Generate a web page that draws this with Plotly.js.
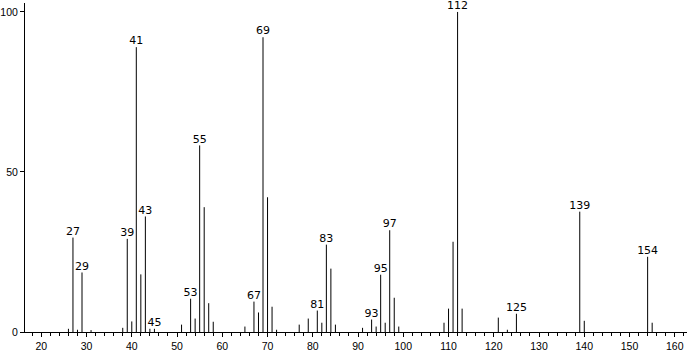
<!DOCTYPE html>
<html>
<head>
<meta charset="utf-8">
<script src="https://cdn.plot.ly/plotly-3.0.1.min.js"></script>
<style>html,body{margin:0;padding:0;background:#fff;}#chart{width:691px;height:351px;}</style>
</head>
<body>
<div id="chart"></div>
<script>
const mz = [26,27,28,29,31,38,39,40,41,42,43,44,45,51,53,54,55,56,57,58,
            65,67,68,69,70,71,72,77,79,81,82,83,84,85,91,93,94,95,96,97,98,99,
            109,110,111,112,113,121,123,125,139,140,154,155];
const intensity = [1.0,29.5,0.7,18.6,0.6,1.3,29.1,3.3,89.0,18.0,36.1,1.0,1.0,2.3,10.4,4.2,58.3,39.0,9.0,3.2,
            1.7,9.5,6.1,92.1,42.1,7.9,0.7,2.3,4.2,6.7,2.9,27.3,19.8,2.3,1.3,3.9,1.7,17.9,2.9,31.8,10.7,1.7,
            2.9,7.3,28.2,100,7.3,4.5,0.7,5.7,37.6,3.5,23.5,2.9];
const labeledPeaks = [27,29,39,41,43,45,53,55,67,69,81,83,93,95,97,112,125,139,154];
const xTickVals = [20,30,40,50,60,70,80,90,100,110,120,130,140,150,160];
const yTickVals = [0,50,100];

const lx = [], ly = [];
mz.forEach((m, i) => { lx.push(m, m, null); ly.push(0, intensity[i], null); });
const tx = [], ty = [], tt = [];
labeledPeaks.forEach(m => { const i = mz.indexOf(m); tx.push(m); ty.push(intensity[i]); tt.push(String(m)); });

const font = {family: 'DejaVu Sans, sans-serif', size: 11, color: '#000'};
const tickFont = {family: 'Liberation Sans, Arial, sans-serif', size: 10.5, color: '#000'};
const data = [
  {x: lx, y: ly, type: 'scatter', mode: 'lines', line: {color: '#000', width: 1}, hoverinfo: 'skip', cliponaxis: false},
  {x: tx, y: ty, text: tt, type: 'scatter', mode: 'text', textposition: 'top center',
   textfont: font, cliponaxis: false, hoverinfo: 'skip'}
];
const layout = {
  width: 691, height: 351,
  margin: {l: 25, r: 4, t: 3, b: 19, pad: 0},
  paper_bgcolor: '#fff', plot_bgcolor: '#fff',
  showlegend: false,
  font: font,
  xaxis: {range: [16.4, 162.7], showgrid: false, zeroline: false, showline: true, linecolor: '#000', linewidth: 1,
          tickvals: xTickVals, ticktext: xTickVals.map(String), ticks: 'outside', ticklen: 4, tickcolor: '#000',
          minor: {dtick: 2, tick0: 0, ticks: 'outside', ticklen: 3, tickcolor: '#000', showgrid: false},
          tickfont: tickFont},
  yaxis: {range: [0, 102.8], showgrid: false, zeroline: false, showline: true, linecolor: '#000', linewidth: 1,
          tickvals: yTickVals, ticktext: yTickVals.map(String), ticks: 'outside', ticklen: 4, tickcolor: '#000',
          tickfont: tickFont}
};
Plotly.newPlot('chart', data, layout, {staticPlot: true, displayModeBar: false});
</script>
</body>
</html>
